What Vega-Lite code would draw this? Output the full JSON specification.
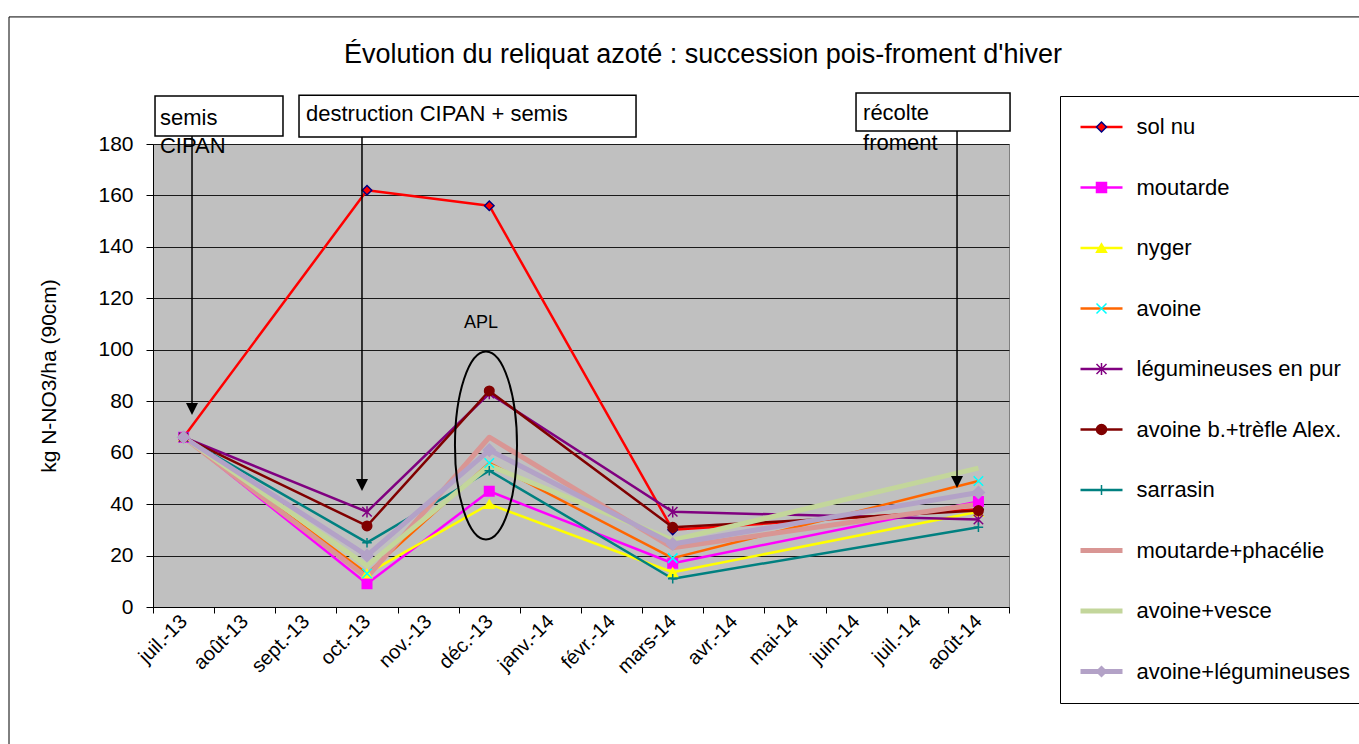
{
  "$schema": "https://vega.github.io/schema/vega-lite/v6.json",
  "width": 856,
  "height": 463,
  "autosize": {"type": "none"},
  "padding": {"left": 153, "top": 144, "right": 350, "bottom": 137},
  "background": "white",
  "config": {
    "font": "Liberation Sans",
    "view": {"fill": "#C0C0C0", "stroke": "#808080", "strokeWidth": 1}
  },
  "title": {
    "text": "Évolution du reliquat azoté : succession pois-froment d'hiver",
    "font": "Liberation Sans",
    "fontSize": 27,
    "fontWeight": "normal",
    "color": "black",
    "anchor": "middle",
    "frame": "group",
    "dx": 122,
    "dy": 53,
    "offset": 0
  },
  "datasets": {
    "reliquat": [
      {"s": "sol nu", "m": "juil.-13", "v": 66},
      {"s": "sol nu", "m": "oct.-13", "v": 162},
      {"s": "sol nu", "m": "déc.-13", "v": 156},
      {"s": "sol nu", "m": "mars-14", "v": 30},
      {"s": "sol nu", "m": "août-14", "v": 38},
      {"s": "moutarde", "m": "juil.-13", "v": 66},
      {"s": "moutarde", "m": "oct.-13", "v": 9},
      {"s": "moutarde", "m": "déc.-13", "v": 45},
      {"s": "moutarde", "m": "mars-14", "v": 17},
      {"s": "moutarde", "m": "août-14", "v": 41},
      {"s": "nyger", "m": "juil.-13", "v": 66},
      {"s": "nyger", "m": "oct.-13", "v": 13},
      {"s": "nyger", "m": "déc.-13", "v": 40},
      {"s": "nyger", "m": "mars-14", "v": 13.5},
      {"s": "nyger", "m": "août-14", "v": 37},
      {"s": "avoine", "m": "juil.-13", "v": 66},
      {"s": "avoine", "m": "oct.-13", "v": 13},
      {"s": "avoine", "m": "déc.-13", "v": 56},
      {"s": "avoine", "m": "mars-14", "v": 19},
      {"s": "avoine", "m": "août-14", "v": 49},
      {"s": "légumineuses en pur", "m": "juil.-13", "v": 66},
      {"s": "légumineuses en pur", "m": "oct.-13", "v": 37},
      {"s": "légumineuses en pur", "m": "déc.-13", "v": 83},
      {"s": "légumineuses en pur", "m": "mars-14", "v": 37},
      {"s": "légumineuses en pur", "m": "août-14", "v": 34},
      {"s": "avoine b.+trèfle Alex.", "m": "juil.-13", "v": 66},
      {"s": "avoine b.+trèfle Alex.", "m": "oct.-13", "v": 31.5},
      {"s": "avoine b.+trèfle Alex.", "m": "déc.-13", "v": 84},
      {"s": "avoine b.+trèfle Alex.", "m": "mars-14", "v": 31},
      {"s": "avoine b.+trèfle Alex.", "m": "août-14", "v": 37.5},
      {"s": "sarrasin", "m": "juil.-13", "v": 66},
      {"s": "sarrasin", "m": "oct.-13", "v": 25},
      {"s": "sarrasin", "m": "déc.-13", "v": 53},
      {"s": "sarrasin", "m": "mars-14", "v": 11},
      {"s": "sarrasin", "m": "août-14", "v": 31},
      {"s": "moutarde+phacélie", "m": "juil.-13", "v": 66},
      {"s": "moutarde+phacélie", "m": "oct.-13", "v": 11.5},
      {"s": "moutarde+phacélie", "m": "déc.-13", "v": 66},
      {"s": "moutarde+phacélie", "m": "mars-14", "v": 23},
      {"s": "moutarde+phacélie", "m": "août-14", "v": 40},
      {"s": "avoine+vesce", "m": "juil.-13", "v": 66},
      {"s": "avoine+vesce", "m": "oct.-13", "v": 16},
      {"s": "avoine+vesce", "m": "déc.-13", "v": 55},
      {"s": "avoine+vesce", "m": "mars-14", "v": 26},
      {"s": "avoine+vesce", "m": "août-14", "v": 54},
      {"s": "avoine+légumineuses", "m": "juil.-13", "v": 66},
      {"s": "avoine+légumineuses", "m": "oct.-13", "v": 20},
      {"s": "avoine+légumineuses", "m": "déc.-13", "v": 61},
      {"s": "avoine+légumineuses", "m": "mars-14", "v": 24.5},
      {"s": "avoine+légumineuses", "m": "août-14", "v": 44.5}
    ],
    "frame": [
      {"x": -2.855, "x2": 19.3, "y": 229.4, "y2": 229.4},
      {"x": -2.855, "x2": -2.855, "y": 229.4, "y2": -54}
    ],
    "boxes": [
      {"x": -0.467, "x2": 1.626, "y": 198.7, "y2": 183.1},
      {"x": 1.888, "x2": 7.4, "y": 199.0, "y2": 182.7},
      {"x": 10.998, "x2": 13.517, "y": 199.8, "y2": 185.1}
    ],
    "notes": [
      {"t": "semis", "x": -0.386, "y": 190.1},
      {"t": "CIPAN", "x": -0.386, "y": 179.2},
      {"t": "destruction CIPAN + semis", "x": 2.002, "y": 191.7},
      {"t": "récolte", "x": 11.113, "y": 192.0},
      {"t": "froment", "x": 11.113, "y": 180.4}
    ],
    "arrows": [
      {"x": 0.138, "y": 183.1, "y2": 77.0},
      {"x": 2.918, "y": 182.7, "y2": 47.4},
      {"x": 12.65, "y": 185.1, "y2": 48.6}
    ],
    "apl": [{"t": "APL", "x": 4.865, "y": 110.4}],
    "ellipse": [{"x": 4.946, "y": 62.8}]
  },
  "layer": [
    {
      "data": {"name": "reliquat"},
      "encoding": {
        "x": {
          "field": "m",
          "type": "nominal",
          "sort": null,
          "bandPosition": 0.5,
          "scale": {
            "type": "band",
            "domain": ["juil.-13", "août-13", "sept.-13", "oct.-13", "nov.-13", "déc.-13", "janv.-14", "févr.-14", "mars-14", "avr.-14", "mai-14", "juin-14", "juil.-14", "août-14"],
            "paddingInner": 0,
            "paddingOuter": 0
          },
          "axis": {
            "title": null,
            "tickBand": "extent",
            "labelAngle": -45,
            "labelAlign": "right",
            "labelBaseline": "middle",
            "labelFont": "Liberation Sans",
            "labelFontSize": 20,
            "labelColor": "black",
            "labelPadding": 5,
            "labelOverlap": false,
            "tickSize": 6,
            "tickColor": "black",
            "domainColor": "black",
            "grid": false
          }
        },
        "y": {
          "field": "v",
          "type": "quantitative",
          "scale": {"domain": [0, 180], "nice": false},
          "axis": {
            "title": "kg N-NO3/ha (90cm)",
            "titleFont": "Liberation Sans",
            "titleFontSize": 21,
            "titleFontWeight": "normal",
            "titleColor": "black",
            "titlePadding": 38,
            "values": [0, 20, 40, 60, 80, 100, 120, 140, 160, 180],
            "labelFont": "Liberation Sans",
            "labelFontSize": 21,
            "labelColor": "black",
            "labelPadding": 13,
            "tickSize": 7,
            "tickColor": "black",
            "domainColor": "black",
            "grid": true,
            "gridColor": "#1a1a1a",
            "gridWidth": 1
          }
        }
      },
      "layer": [
        {
          "mark": {"type": "line", "strokeJoin": "round"},
          "encoding": {
            "color": {
              "field": "s",
              "type": "nominal",
              "scale": {
                "domain": ["sol nu", "moutarde", "nyger", "avoine", "légumineuses en pur", "avoine b.+trèfle Alex.", "sarrasin", "moutarde+phacélie", "avoine+vesce", "avoine+légumineuses"],
                "range": ["#FF0000", "#FF00FF", "#FFFF00", "#FF6600", "#800080", "#800000", "#008080", "#D99694", "#C3D69B", "#B3A2C7"]
              },
              "legend": {
                "orient": "none",
                "legendX": 907,
                "legendY": -48,
                "title": null,
                "symbolType": "stroke",
                "symbolSize": 1764,
                "symbolStrokeWidth": 2.5,
                "symbolOffset": 10.5,
                "labelFont": "Liberation Sans",
                "labelFontSize": 22,
                "labelColor": "black",
                "labelOffset": 24,
                "labelLimit": 400,
                "rowPadding": 38.5,
                "padding": 20,
                "strokeColor": "black",
                "encode": {
                  "symbols": {
                    "update": {
                      "strokeWidth": {"signal": "indexof(['moutarde+phacélie','avoine+vesce','avoine+légumineuses'], datum.value) >= 0 ? 5 : 2.5"}
                    }
                  }
                }
              }
            },
            "strokeWidth": {
              "condition": {"test": "indexof(['moutarde+phacélie','avoine+vesce','avoine+légumineuses'], datum.s) >= 0", "value": 5},
              "value": 2.5
            }
          }
        },
        {
          "mark": {"type": "point", "opacity": 1, "strokeWidth": 1.5},
          "encoding": {
            "shape": {
              "field": "s",
              "type": "nominal",
              "scale": {
                "domain": ["sol nu", "moutarde", "nyger", "avoine", "légumineuses en pur", "avoine b.+trèfle Alex.", "sarrasin", "moutarde+phacélie", "avoine+vesce", "avoine+légumineuses", "~"],
                "range": ["diamond", "square", "triangle-up", "M-1,-1L1,1M-1,1L1,-1", "M-1,-1L1,1M-1,1L1,-1M0,-1.2L0,1.2", "circle", "M-1,0L1,0M0,-1L0,1", "circle", "circle", "diamond", "circle"]
              },
              "legend": {
                "orient": "none",
                "legendX": 907,
                "legendY": -48,
                "title": null,
                "symbolSize": 100,
                "symbolStrokeWidth": 1.5,
                "symbolOffset": 10.5,
                "labelFont": "Liberation Sans",
                "labelFontSize": 22,
                "labelColor": "transparent",
                "labelOffset": 24,
                "labelLimit": 400,
                "rowPadding": 38.5,
                "padding": 20
              }
            },
            "fill": {
              "field": "s",
              "type": "nominal",
              "scale": {
                "domain": ["sol nu", "moutarde", "nyger", "avoine", "légumineuses en pur", "avoine b.+trèfle Alex.", "sarrasin", "moutarde+phacélie", "avoine+vesce", "avoine+légumineuses", "~"],
                "range": ["#FF0000", "#FF00FF", "#FFFF00", "transparent", "transparent", "#800000", "transparent", "transparent", "transparent", "#B3A2C7", "transparent"]
              }
            },
            "stroke": {
              "field": "s",
              "type": "nominal",
              "scale": {
                "domain": ["sol nu", "moutarde", "nyger", "avoine", "légumineuses en pur", "avoine b.+trèfle Alex.", "sarrasin", "moutarde+phacélie", "avoine+vesce", "avoine+légumineuses", "~"],
                "range": ["#000080", "#FF00FF", "#FFFF00", "#00FFFF", "#800080", "#800000", "#008080", "transparent", "transparent", "#B3A2C7", "transparent"]
              }
            },
            "size": {
              "condition": {"test": "datum.s === 'avoine+légumineuses'", "value": 144},
              "value": 90
            }
          }
        }
      ]
    },
    {
      "layer": [
        {
          "data": {"name": "frame"},
          "mark": {"type": "rule", "color": "black", "strokeWidth": 1},
          "encoding": {
            "x": {"field": "x", "type": "quantitative", "scale": {"domain": [-0.5, 13.5], "nice": false, "zero": false}, "axis": null},
            "x2": {"field": "x2"},
            "y": {"field": "y", "type": "quantitative", "scale": {"domain": [0, 180], "nice": false}, "axis": null},
            "y2": {"field": "y2"}
          }
        },
        {
          "data": {"name": "boxes"},
          "mark": {"type": "rect", "fill": "white", "stroke": "black", "strokeWidth": 1.5},
          "encoding": {
            "x": {"field": "x", "type": "quantitative", "scale": {"domain": [-0.5, 13.5], "nice": false, "zero": false}, "axis": null},
            "x2": {"field": "x2"},
            "y": {"field": "y", "type": "quantitative", "scale": {"domain": [0, 180], "nice": false}, "axis": null},
            "y2": {"field": "y2"}
          }
        },
        {
          "data": {"name": "notes"},
          "mark": {"type": "text", "align": "left", "baseline": "middle", "font": "Liberation Sans", "fontSize": 22, "color": "black"},
          "encoding": {
            "x": {"field": "x", "type": "quantitative", "scale": {"domain": [-0.5, 13.5], "nice": false, "zero": false}, "axis": null},
            "y": {"field": "y", "type": "quantitative", "scale": {"domain": [0, 180], "nice": false}, "axis": null},
            "text": {"field": "t"}
          }
        },
        {
          "data": {"name": "arrows"},
          "mark": {"type": "rule", "color": "black", "strokeWidth": 1.5},
          "encoding": {
            "x": {"field": "x", "type": "quantitative", "scale": {"domain": [-0.5, 13.5], "nice": false, "zero": false}, "axis": null},
            "y": {"field": "y", "type": "quantitative", "scale": {"domain": [0, 180], "nice": false}, "axis": null},
            "y2": {"field": "y2"}
          }
        },
        {
          "data": {"name": "arrows"},
          "mark": {"type": "point", "shape": "M-1,-1L1,-1L0,1Z", "size": 144, "filled": true, "color": "black", "opacity": 1},
          "encoding": {
            "x": {"field": "x", "type": "quantitative", "scale": {"domain": [-0.5, 13.5], "nice": false, "zero": false}, "axis": null},
            "y": {"field": "y2", "type": "quantitative", "scale": {"domain": [0, 180], "nice": false}, "axis": null}
          }
        },
        {
          "data": {"name": "apl"},
          "mark": {"type": "text", "align": "center", "baseline": "middle", "font": "Liberation Sans", "fontSize": 18, "color": "black"},
          "encoding": {
            "x": {"field": "x", "type": "quantitative", "scale": {"domain": [-0.5, 13.5], "nice": false, "zero": false}, "axis": null},
            "y": {"field": "y", "type": "quantitative", "scale": {"domain": [0, 180], "nice": false}, "axis": null},
            "text": {"field": "t"}
          }
        },
        {
          "data": {"name": "ellipse"},
          "mark": {"type": "point", "shape": "M0,-1A0.33,1,0,1,1,0,1A0.33,1,0,1,1,0,-1Z", "size": 35344, "filled": false, "stroke": "black", "strokeWidth": 2, "opacity": 1},
          "encoding": {
            "x": {"field": "x", "type": "quantitative", "scale": {"domain": [-0.5, 13.5], "nice": false, "zero": false}, "axis": null},
            "y": {"field": "y", "type": "quantitative", "scale": {"domain": [0, 180], "nice": false}, "axis": null}
          }
        }
      ]
    }
  ],
  "resolve": {"scale": {"x": "independent"}, "axis": {"x": "independent", "y": "independent"}}
}
